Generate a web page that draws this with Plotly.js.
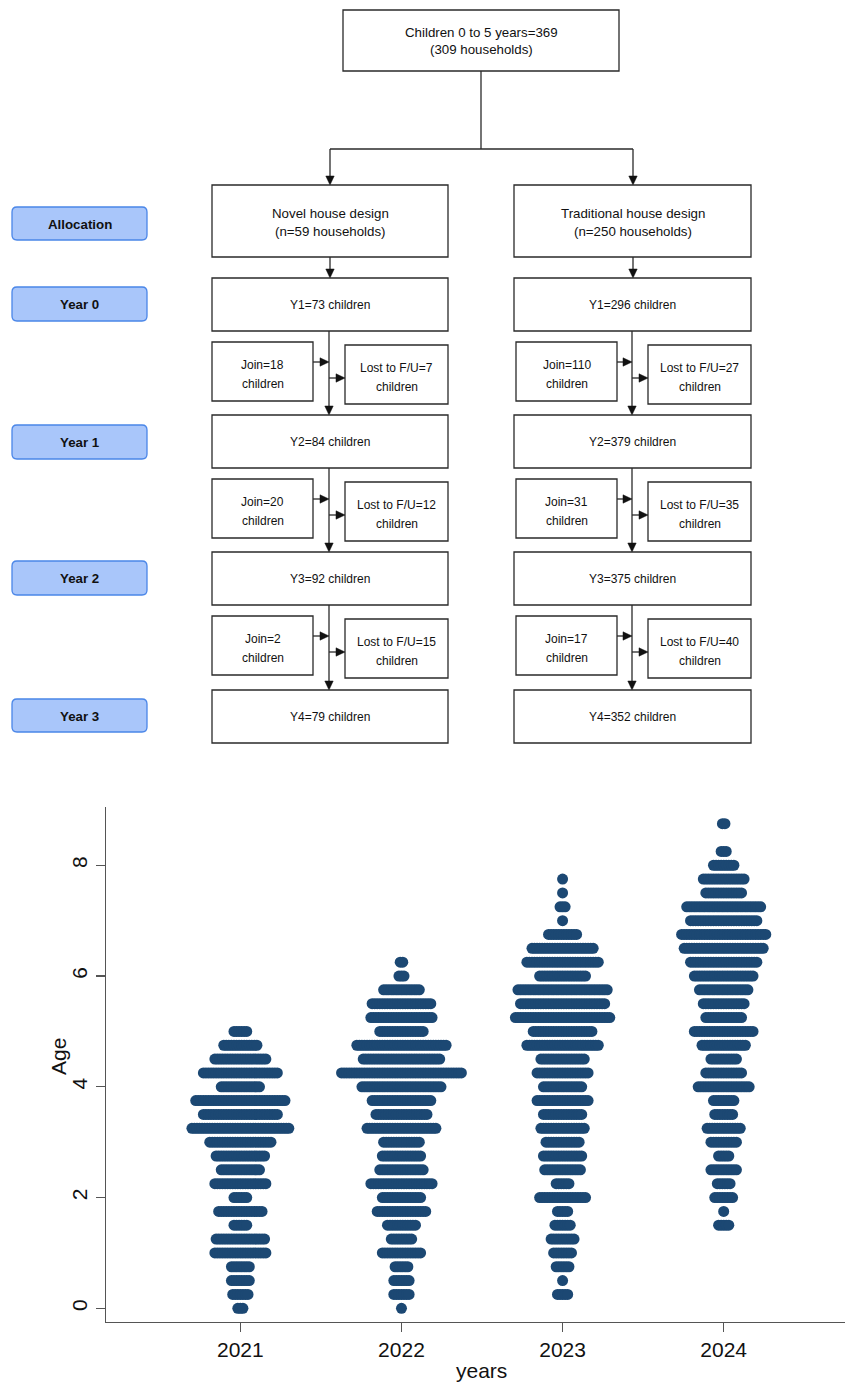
<!DOCTYPE html>
<html>
<head>
<meta charset="utf-8">
<script src="https://cdn.plot.ly/plotly-3.0.1.min.js"></script>
<style>
html,body{margin:0;padding:0;background:#fff;overflow:hidden;}
#chart{width:845px;height:1383px;}
</style>
</head>
<body>
<div id="chart"></div>
<script>
// ---------------- DATA ----------------
// Flowchart
const topLines = ['Children 0 to 5 years=369', '(309 households)'];
const armNames = ['Novel house design', 'Traditional house design'];
const armHouseholds = [59, 250];
const stageLabels = ['Allocation', 'Year 0', 'Year 1', 'Year 2', 'Year 3'];
const childrenNovel = [73, 84, 92, 79];
const childrenTrad = [296, 379, 375, 352];
const joinNovel = [18, 20, 2];
const joinTrad = [110, 31, 17];
const lostNovel = [7, 12, 15];
const lostTrad = [27, 35, 40];

// Beeswarm: age rows and number of children in each row
const years = [2021, 2022, 2023, 2024];
const yearLabels = ['2021', '2022', '2023', '2024'];
const ages2021 = [0, 0.25, 0.5, 0.75, 1, 1.25, 1.5, 1.75, 2, 2.25, 2.5, 2.75, 3, 3.25, 3.5, 3.75, 4, 4.25, 4.5, 4.75, 5];
const counts2021 = [3, 7, 8, 8, 21, 20, 6, 18, 6, 21, 16, 20, 25, 39, 30, 36, 16, 30, 21, 14, 6];
const ages2022 = [0, 0.25, 0.5, 0.75, 1, 1.25, 1.5, 1.75, 2, 2.25, 2.5, 2.75, 3, 3.25, 3.5, 3.75, 4, 4.25, 4.5, 4.75, 5, 5.25, 5.5, 5.75, 6, 6.25];
const counts2022 = [1, 7, 7, 6, 16, 9, 12, 20, 16, 25, 18, 16, 15, 28, 21, 24, 32, 48, 31, 36, 18, 25, 24, 15, 3, 2];
const ages2023 = [0.25, 0.5, 0.75, 1, 1.25, 1.5, 1.75, 2, 2.25, 2.5, 2.75, 3, 3.25, 3.5, 3.75, 4, 4.25, 4.5, 4.75, 5, 5.25, 5.5, 5.75, 6, 6.25, 6.5, 6.75, 7, 7.25, 7.5, 7.75];
const counts2023 = [5, 1, 6, 8, 10, 7, 5, 19, 6, 15, 16, 14, 18, 16, 21, 16, 21, 18, 29, 24, 38, 34, 36, 19, 29, 25, 12, 1, 3, 1, 1];
const ages2024 = [1.5, 1.75, 2, 2.25, 2.5, 2.75, 3, 3.25, 3.5, 3.75, 4, 4.25, 4.5, 4.75, 5, 5.25, 5.5, 5.75, 6, 6.25, 6.5, 6.75, 7, 7.25, 7.5, 7.75, 8, 8.25, 8.75];
const counts2024 = [5, 1, 8, 6, 11, 5, 11, 14, 8, 9, 21, 15, 11, 18, 24, 15, 17, 20, 24, 27, 32, 34, 27, 30, 15, 17, 9, 3, 2];
const yTicks = [0, 2, 4, 6, 8];

// ---------------- STYLE / LAYOUT CONSTANTS ----------------
const W = 845, H = 1383;
const FONT = 'Liberation Sans, Arial, Helvetica, sans-serif';
const dotColor = '#1c4873';
const dotSize = 11;
const pxPerYear = 161.1;
const dotStepPx = 2.55;
const xStep = dotStepPx / pxPerYear;
const boxLine = '#2a2a2a';

// ---------------- BEESWARM TRACES ----------------
function swarm(year, ages, counts) {
  const xs = [], ys = [];
  for (let j = 0; j < ages.length; j++) {
    const n = counts[j];
    for (let i = 0; i < n; i++) {
      xs.push(year + (i - (n - 1) / 2) * xStep);
      ys.push(ages[j]);
    }
  }
  return {
    type: 'scatter', mode: 'markers', x: xs, y: ys, xaxis: 'x', yaxis: 'y',
    marker: {size: dotSize, color: dotColor, line: {width: 0}},
    hoverinfo: 'skip', showlegend: false
  };
}
const traces = [
  swarm(years[0], ages2021, counts2021),
  swarm(years[1], ages2022, counts2022),
  swarm(years[2], ages2023, counts2023),
  swarm(years[3], ages2024, counts2024),
  {type: 'scatter', mode: 'markers', x: [], y: [], xaxis: 'x2', yaxis: 'y2', showlegend: false, hoverinfo: 'skip'}
];

// ---------------- FLOWCHART (pixel space on x2/y2) ----------------
const shapes = [];
const annotations = [];
function rect(x0, y0, x1, y1) {
  shapes.push({type: 'rect', xref: 'x2', yref: 'y2', x0, y0, x1, y1,
    line: {color: boxLine, width: 1.3}, fillcolor: 'rgba(0,0,0,0)', layer: 'above'});
}
function rbutton(x0, y0, x1, y1) {
  const r = 5;
  const p = `M ${x0 + r},${y0} L ${x1 - r},${y0} Q ${x1},${y0} ${x1},${y0 + r} L ${x1},${y1 - r} Q ${x1},${y1} ${x1 - r},${y1} L ${x0 + r},${y1} Q ${x0},${y1} ${x0},${y1 - r} L ${x0},${y0 + r} Q ${x0},${y0} ${x0 + r},${y0} Z`;
  shapes.push({type: 'path', xref: 'x2', yref: 'y2', path: p,
    line: {color: '#4a86e8', width: 1.3}, fillcolor: '#a9c6fa'});
}
function line(x0, y0, x1, y1) {
  shapes.push({type: 'line', xref: 'x2', yref: 'y2', x0, y0, x1, y1,
    line: {color: boxLine, width: 1.3}});
}
function headDown(x, y) {
  shapes.push({type: 'path', xref: 'x2', yref: 'y2',
    path: `M ${x - 4.2},${y - 9} L ${x + 4.2},${y - 9} L ${x},${y} Z`,
    line: {color: '#111', width: 0.5}, fillcolor: '#111'});
}
function headRight(x, y) {
  shapes.push({type: 'path', xref: 'x2', yref: 'y2',
    path: `M ${x - 9},${y - 4.2} L ${x - 9},${y + 4.2} L ${x},${y} Z`,
    line: {color: '#111', width: 0.5}, fillcolor: '#111'});
}
function arrowDown(x, y0, y1) { line(x, y0, x, y1 - 8); headDown(x, y1); }
function arrowRight(x0, x1, y) { line(x0, y, x1 - 8, y); headRight(x1, y); }
function text(x, y, s, size, bold) {
  annotations.push({xref: 'x2', yref: 'y2', x, y, text: bold ? '<b>' + s + '</b>' : s,
    showarrow: false, xanchor: 'center', yanchor: 'middle',
    font: {family: FONT, size: size, color: '#111'}});
}

// Top box
rect(343, 10, 619, 71);
text(481, 32.5, topLines[0], 13.3);
text(481, 49.5, topLines[1], 13.3);
line(481, 71, 481, 149);
line(330, 149, 633, 149);
arrowDown(330, 149, 185);
arrowDown(633, 149, 185);

// Arm columns
const cols = [
  {bx0: 212, bx1: 448, cx: 330, vx: 329, jx0: 212, jx1: 313, lx0: 345, lx1: 448,
   children: childrenNovel, join: joinNovel, lost: lostNovel},
  {bx0: 514, bx1: 751, cx: 633, vx: 632, jx0: 516, jx1: 617, lx0: 648, lx1: 751,
   children: childrenTrad, join: joinTrad, lost: lostTrad}
];
const yRows = [[278, 331], [415, 468], [552, 605], [690, 743]];

cols.forEach((c, k) => {
  rect(c.bx0, 185, c.bx1, 257);
  text(c.cx, 213.5, armNames[k], 13.3);
  text(c.cx, 231, '(n=' + armHouseholds[k] + ' households)', 13.3);
  arrowDown(c.cx, 257, 278);
  for (let r = 0; r < yRows.length; r++) {
    const [t, b] = yRows[r];
    rect(c.bx0, t, c.bx1, b);
    text((c.bx0 + c.bx1) / 2, (t + b) / 2 + 0.7, 'Y' + (r + 1) + '=' + c.children[r] + ' children', 12);
    if (r < yRows.length - 1) {
      const nt = yRows[r + 1][0];
      arrowDown(c.vx, b, nt);
      const jt = b + 11, lt = b + 14;
      rect(c.jx0, jt, c.jx1, jt + 59);
      text((c.jx0 + c.jx1) / 2, jt + 23, 'Join=' + c.join[r], 12);
      text((c.jx0 + c.jx1) / 2, jt + 42, 'children', 12);
      rect(c.lx0, lt, c.lx1, lt + 59);
      text((c.lx0 + c.lx1) / 2, lt + 23.3, 'Lost to F/U=' + c.lost[r], 12);
      text((c.lx0 + c.lx1) / 2, lt + 42.3, 'children', 12);
      arrowRight(c.jx1, c.vx, jt + 20);
      arrowRight(c.vx, c.lx0, lt + 33);
    }
  }
});

// Stage buttons
const buttonY = [[207, 240], [287, 321], [425, 459], [561, 595], [699, 732]];
stageLabels.forEach((s, i) => {
  rbutton(12, buttonY[i][0], 147, buttonY[i][1]);
  text(79.5, (buttonY[i][0] + buttonY[i][1]) / 2 + 0.5, s, 13.3, true);
});

// Axis titles for the beeswarm (paper coordinates)
annotations.push({xref: 'paper', yref: 'paper', x: 481.7 / W, y: 1 - 1370 / H,
  text: 'years', showarrow: false, xanchor: 'center', yanchor: 'middle',
  font: {family: FONT, size: 21, color: '#111'}});
annotations.push({xref: 'paper', yref: 'paper', x: 58 / W, y: 1 - 1056 / H,
  text: 'Age', textangle: -90, showarrow: false, xanchor: 'center', yanchor: 'middle',
  font: {family: FONT, size: 21, color: '#111'}});

const layout = {
  width: W, height: H, autosize: false,
  margin: {l: 0, r: 0, t: 0, b: 0, pad: 0},
  paper_bgcolor: '#fff', plot_bgcolor: '#fff',
  showlegend: false,
  font: {family: FONT, color: '#111'},
  xaxis: {
    domain: [106 / W, 1], range: [2020.166, 2024.753], anchor: 'y',
    tickmode: 'array', tickvals: years, ticktext: yearLabels,
    ticks: 'outside', ticklen: 9, tickwidth: 1.3, tickcolor: '#555',
    showline: true, linecolor: '#555', linewidth: 1.3, mirror: false,
    showgrid: false, zeroline: false, fixedrange: true,
    tickfont: {family: FONT, size: 21, color: '#111'}
  },
  yaxis: {
    domain: [(H - 1321.7) / H, (H - 807) / H], range: [-0.242, 9.052], anchor: 'x',
    tickmode: 'array', tickvals: yTicks, ticktext: yTicks.map(String), tickangle: -90,
    ticks: 'outside', ticklen: 9, tickwidth: 1.3, tickcolor: '#555',
    showline: true, linecolor: '#555', linewidth: 1.3,
    showgrid: false, zeroline: false, fixedrange: true,
    tickfont: {family: FONT, size: 21, color: '#111'}
  },
  xaxis2: {domain: [0, 1], range: [0, W], anchor: 'y2', visible: false, fixedrange: true},
  yaxis2: {domain: [(H - 770) / H, 1], range: [770, 0], anchor: 'x2', visible: false, fixedrange: true},
  shapes: shapes,
  annotations: annotations
};

Plotly.newPlot('chart', traces, layout, {staticPlot: true, displayModeBar: false});
</script>
</body>
</html>
